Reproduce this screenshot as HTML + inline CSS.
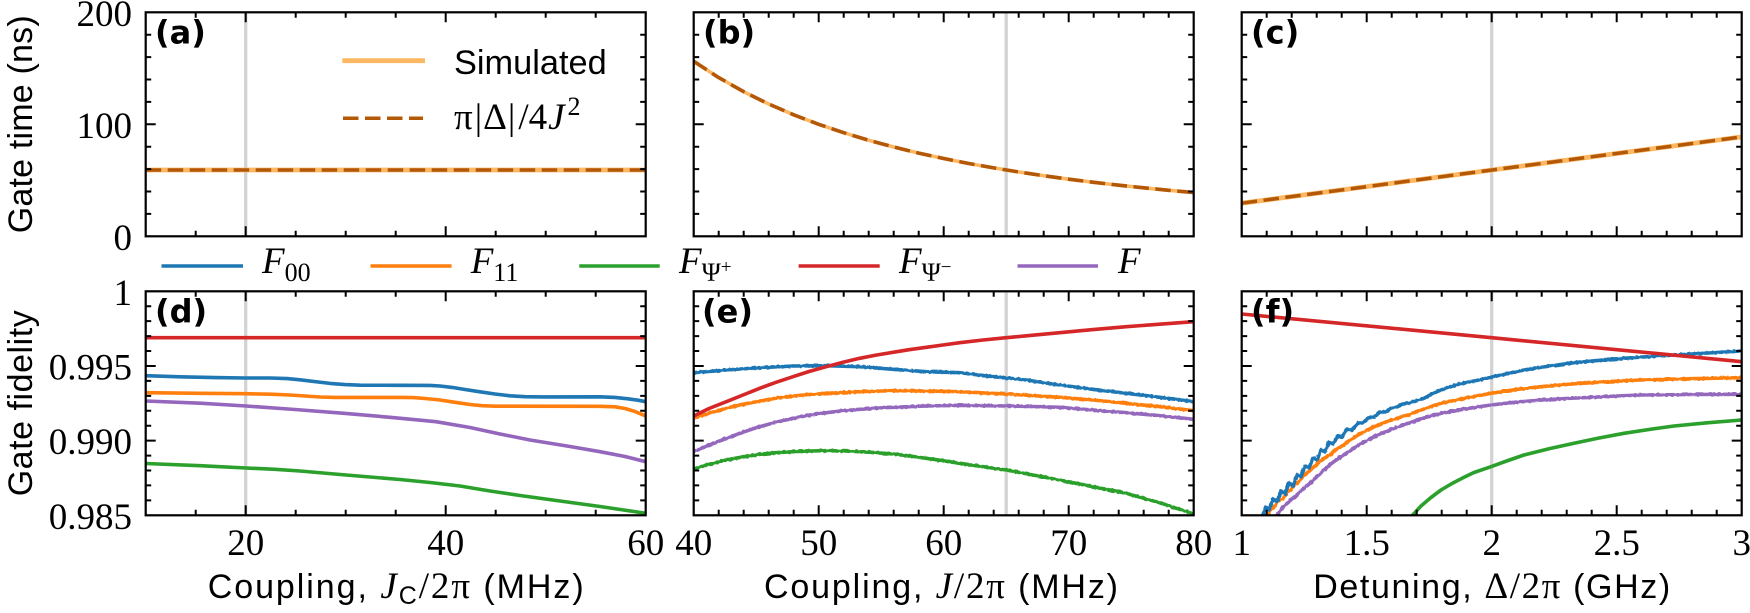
<!DOCTYPE html>
<html><head><meta charset="utf-8"><style>
html,body{margin:0;padding:0;background:#fff;}
svg{display:block}
.t{font-family:"Liberation Serif",serif;font-size:37px;fill:#000}
.s{font-family:"Liberation Sans",sans-serif;font-size:34px;fill:#000}
.b{font-family:"DejaVu Sans","Liberation Sans",sans-serif;font-weight:bold;font-size:32px;fill:#000}
.tk{stroke:#000;stroke-width:2;fill:none}
.sp{stroke:#000;stroke-width:2.2;fill:none}
.ln{fill:none;stroke-width:3.6;stroke-linejoin:round;stroke-linecap:butt}
</style></head><body>
<svg width="1750" height="613" viewBox="0 0 1750 613" xmlns="http://www.w3.org/2000/svg">
<defs>
<clipPath id="c1"><rect x="145.7" y="12.3" width="500" height="224"/></clipPath>
<clipPath id="c2"><rect x="693.7" y="12.3" width="500" height="224"/></clipPath>
<clipPath id="c3"><rect x="1241.7" y="12.3" width="500" height="224"/></clipPath>
<clipPath id="c4"><rect x="145.7" y="291.3" width="500" height="224"/></clipPath>
<clipPath id="c5"><rect x="693.7" y="291.3" width="500" height="224"/></clipPath>
<clipPath id="c6"><rect x="1241.7" y="291.3" width="500" height="224"/></clipPath>
<filter id="jit" filterUnits="userSpaceOnUse" x="0" y="0" width="1750" height="613">
<feTurbulence type="fractalNoise" baseFrequency="0.35" numOctaves="1" seed="3" result="n"/>
<feDisplacementMap in="SourceGraphic" in2="n" scale="2.5" xChannelSelector="R" yChannelSelector="G"/>
</filter>
<path id="xt1" d="M195.7 0v-5.5M245.7 0v-10M295.7 0v-5.5M345.7 0v-5.5M395.7 0v-5.5M445.7 0v-10M495.7 0v-5.5M545.7 0v-5.5M595.7 0v-5.5"/>
<path id="xt2" d="M718.7 0v-5.5M743.7 0v-5.5M768.7 0v-5.5M793.7 0v-5.5M818.7 0v-10M843.7 0v-5.5M868.7 0v-5.5M893.7 0v-5.5M918.7 0v-5.5M943.7 0v-10M968.7 0v-5.5M993.7 0v-5.5M1018.7 0v-5.5M1043.7 0v-5.5M1068.7 0v-10M1093.7 0v-5.5M1118.7 0v-5.5M1143.7 0v-5.5M1168.7 0v-5.5"/>
<path id="xt3" d="M1266.7 0v-5.5M1291.7 0v-5.5M1316.7 0v-5.5M1341.7 0v-5.5M1366.7 0v-10M1391.7 0v-5.5M1416.7 0v-5.5M1441.7 0v-5.5M1466.7 0v-5.5M1491.7 0v-10M1516.7 0v-5.5M1541.7 0v-5.5M1566.7 0v-5.5M1591.7 0v-5.5M1616.7 0v-10M1641.7 0v-5.5M1666.7 0v-5.5M1691.7 0v-5.5M1716.7 0v-5.5"/>
<path id="ytt" d="M0 213.9h5.5M0 191.5h5.5M0 169.1h5.5M0 146.7h5.5M0 124.3h10M0 101.9h5.5M0 79.5h5.5M0 57.1h5.5M0 34.7h5.5"/>
<path id="ytb" d="M0 500.37h5.5M0 485.43h5.5M0 470.5h5.5M0 455.57h5.5M0 440.63h10M0 425.7h5.5M0 410.77h5.5M0 395.83h5.5M0 380.9h5.5M0 365.97h10M0 351.03h5.5M0 336.1h5.5M0 321.17h5.5M0 306.23h5.5"/>
</defs>

<g stroke="#d3d3d3" stroke-width="3.3">
<line x1="245.7" y1="12.3" x2="245.7" y2="236.3"/>
<line x1="1006.2" y1="12.3" x2="1006.2" y2="236.3"/>
<line x1="1491.7" y1="12.3" x2="1491.7" y2="236.3"/>
<line x1="245.7" y1="291.3" x2="245.7" y2="515.3"/>
<line x1="1006.2" y1="291.3" x2="1006.2" y2="515.3"/>
<line x1="1491.7" y1="291.3" x2="1491.7" y2="515.3"/>
</g>

<g clip-path="url(#c1)">
<line x1="145.7" y1="170" x2="645.7" y2="170" stroke="#fdb863" stroke-width="4.8"/>
<line x1="145.7" y1="170" x2="645.7" y2="170" stroke="#b35806" stroke-width="3.5" stroke-dasharray="15.5 6.5"/>
</g>
<g clip-path="url(#c2)">
<polyline class="ln" stroke="#fdb863" stroke-width="4.8" points="693.7,61.3 718.7,77.6 743.7,91.7 768.7,104 793.7,114.8 818.7,124.3 843.7,132.7 868.7,140.3 893.7,147 918.7,153.1 943.7,158.5 968.7,163.5 993.7,167.9 1018.7,172 1043.7,175.7 1068.7,179.2 1093.7,182.3 1118.7,185.2 1143.7,187.8 1168.7,190.3 1193.7,192.5"/>
<polyline class="ln" stroke="#b35806" stroke-width="3.5" stroke-dasharray="15.5 6.5" points="693.7,61.3 718.7,77.6 743.7,91.7 768.7,104 793.7,114.8 818.7,124.3 843.7,132.7 868.7,140.3 893.7,147 918.7,153.1 943.7,158.5 968.7,163.5 993.7,167.9 1018.7,172 1043.7,175.7 1068.7,179.2 1093.7,182.3 1118.7,185.2 1143.7,187.8 1168.7,190.3 1193.7,192.5"/>
</g>
<g clip-path="url(#c3)">
<line x1="1241.7" y1="203.2" x2="1741.7" y2="136.9" stroke="#fdb863" stroke-width="4.8"/>
<line x1="1241.7" y1="203.2" x2="1741.7" y2="136.9" stroke="#b35806" stroke-width="3.5" stroke-dasharray="15.5 6.5"/>
</g>

<g clip-path="url(#c4)">
<line class="ln" x1="145.7" y1="337.7" x2="645.7" y2="337.7" stroke="#d62728"/>
<polyline class="ln" stroke="#1f77b4" points="145.7,375.7 180,376.8 215,377.6 245,378 270,378 287,378.6 300,379.8 315,381.6 330,383.4 345,384.6 360,385.2 400,385.3 430,385.4 440,386 452,387.4 465,389.5 480,391.8 495,394 510,395.8 525,396.7 543,396.9 600,396.8 615,397.4 628,398.8 638,400.2 645.7,401.7"/>
<polyline class="ln" stroke="#ff7f0e" points="145.7,392.7 200,393.3 245,393.7 270,394.2 290,395 305,396 320,397 335,397.4 400,397.4 413,397.6 425,398.5 440,400 455,402.3 470,404.5 482,405.7 495,406.2 600,406.3 615,406.8 625,408.5 635,411.5 645.7,416"/>
<polyline class="ln" stroke="#9467bd" points="145.7,401 200,403.2 246,406 295,409.5 344,413.3 390,417.3 436,421.7 470,427.5 500,434 530,440 570,446.5 600,451.7 625,456.5 645.7,461.7"/>
<polyline class="ln" stroke="#2ca02c" points="145.7,463.5 200,465.7 246,468 275,469.3 300,471 346,475 400,479.5 430,482.5 460,486 490,491 520,495.5 560,501 600,506.5 645.7,513.3"/>
</g>

<g clip-path="url(#c5)">
<polyline class="ln" stroke="#2ca02c" filter="url(#jit)" points="693.7,469 710,464 726.3,460 743,456.8 759.7,454.3 776,452.7 793,451.7 809,451 826.3,450.7 843,451 859.7,451.7 876,452.7 893,454 910,456 926.3,458.3 943,460.7 959.7,463.3 983,466.7 1006.3,470 1033,475 1059.7,480 1093,486.7 1126.3,493.3 1159.7,502.7 1193.7,514"/>
<polyline class="ln" stroke="#9467bd" filter="url(#jit)" points="693.7,451.7 710,444.7 726.3,438.3 743,432.2 759.7,426.7 776,422.2 793,418.3 809,415.2 826.3,412.7 843,410.8 859.7,409.3 876,408.2 893,407.3 926.3,406 959.7,405.3 1006.3,406 1033,406.5 1059.7,407.3 1093,410 1126.3,412.7 1159.7,415.7 1193.7,419.3"/>
<polyline class="ln" stroke="#ff7f0e" filter="url(#jit)" points="693.7,418.3 710,412.8 726.3,408.3 743,404.3 759.7,401 776,398.2 793,396 809,394.5 826.3,393.3 859.7,391.7 893,390.7 926.3,391 959.7,391.7 1006.3,394 1059.7,397.3 1093,400 1126.3,403.3 1159.7,406.7 1193.7,410.7"/>
<polyline class="ln" stroke="#1f77b4" filter="url(#jit)" points="693.7,372.7 726.3,370 759.7,367.7 793,366 826.3,365.7 859.7,366.7 893,369.3 926.3,371.7 959.7,372.7 993,376.7 1026.3,380 1059.7,385 1093,389.3 1126.3,393.3 1159.7,397.3 1193.7,401.7"/>
<polyline class="ln" stroke="#d62728" points="693.7,416 709,408.5 726.3,401.7 743,395 759.7,388.3 776,382.3 793,376.7 809,371.5 826.3,366.7 843,362.3 859.7,358.3 876,355.1 893,352.3 909,349.7 926.3,347.3 943,345 959.7,342.7 983,340 1006.3,337.7 1033,335.2 1059.7,332.7 1093,329.6 1126.3,326.7 1159.7,324.2 1193.7,321.7"/>
</g>

<g clip-path="url(#c6)">
<polyline class="ln" stroke="#2ca02c" points="1410,518 1421,506 1431,497.5 1441,490 1452,483.5 1463,477.8 1474,472.5 1491,466.7 1508,460.5 1524,455 1549,448.8 1574,443.3 1599,438 1624,433.3 1649,429.5 1674,426 1707,422.8 1741.7,420"/>
<polyline class="ln" stroke="#9467bd" filter="url(#jit)" points="1275,518 1283,507 1291,500 1299,492.5 1308,485 1316,477.5 1324,470 1332,463 1341,456.7 1357,446 1374,436.7 1391,429.5 1408,423.3 1424,418 1441,413.3 1466,408.7 1491,405 1516,402.2 1541,400 1566,398.5 1591,397.3 1616,396 1641,395 1691,394.5 1741.7,394.3"/>
<polyline class="ln" stroke="#ff7f0e" filter="url(#jit)" points="1267,518 1271,509 1275,506 1279,500 1283,499 1287,492 1291,490 1295,484 1299,482 1303,476 1307,473 1311,469 1315,466 1319,462 1324,458.3 1330,455 1335,450 1341,446.7 1347,442 1352,439 1358,435 1366,431 1374,426.7 1390,420.5 1408,415 1424,409 1441,403.3 1466,398 1491,393.3 1516,389.5 1541,386.7 1566,384.5 1591,382.7 1616,381.2 1641,380 1691,378.7 1741.7,377.7"/>
<polyline class="ln" stroke="#1f77b4" filter="url(#jit)" points="1262,518 1266,507 1269,510 1273,499 1277,502 1281,491 1285,494 1289,483 1293,486 1297,475 1301,477 1305,466 1309,468 1313,458 1317,460 1321,450 1325,452 1329,442 1333,444 1338,436 1342,437 1347,429 1352,430 1358,423 1363,423 1368,418 1374,417 1380,412 1386,412 1391,408 1397,407 1403,404 1408,403.3 1416,401 1424,398.3 1432,394 1441,390 1450,387 1458,384.3 1474,381 1491,377.3 1508,373.5 1524,370 1550,366 1574,362.7 1600,360.3 1624,358.3 1650,356.5 1674,355 1700,353.5 1741.7,351"/>
<polyline class="ln" stroke="#d62728" points="1241.7,314 1491.7,337.7 1741.7,361.7"/>
</g>

<rect class="sp" x="145.7" y="12.3" width="500" height="224"/>
<rect class="sp" x="693.7" y="12.3" width="500" height="224"/>
<rect class="sp" x="1241.7" y="12.3" width="500" height="224"/>
<rect class="sp" x="145.7" y="291.3" width="500" height="224"/>
<rect class="sp" x="693.7" y="291.3" width="500" height="224"/>
<rect class="sp" x="1241.7" y="291.3" width="500" height="224"/>

<g class="tk">
<use href="#xt1" transform="translate(0,236.3)"/>
<use href="#xt1" transform="translate(0,12.3) scale(1,-1)"/>
<use href="#xt1" transform="translate(0,515.3)"/>
<use href="#xt1" transform="translate(0,291.3) scale(1,-1)"/>
<use href="#xt2" transform="translate(0,236.3)"/>
<use href="#xt2" transform="translate(0,12.3) scale(1,-1)"/>
<use href="#xt2" transform="translate(0,515.3)"/>
<use href="#xt2" transform="translate(0,291.3) scale(1,-1)"/>
<use href="#xt3" transform="translate(0,236.3)"/>
<use href="#xt3" transform="translate(0,12.3) scale(1,-1)"/>
<use href="#xt3" transform="translate(0,515.3)"/>
<use href="#xt3" transform="translate(0,291.3) scale(1,-1)"/>
<use href="#ytt" transform="translate(145.7,0)"/>
<use href="#ytt" transform="translate(645.7,0) scale(-1,1)"/>
<use href="#ytt" transform="translate(693.7,0)"/>
<use href="#ytt" transform="translate(1193.7,0) scale(-1,1)"/>
<use href="#ytt" transform="translate(1241.7,0)"/>
<use href="#ytt" transform="translate(1741.7,0) scale(-1,1)"/>
<use href="#ytb" transform="translate(145.7,0)"/>
<use href="#ytb" transform="translate(645.7,0) scale(-1,1)"/>
<use href="#ytb" transform="translate(693.7,0)"/>
<use href="#ytb" transform="translate(1193.7,0) scale(-1,1)"/>
<use href="#ytb" transform="translate(1241.7,0)"/>
<use href="#ytb" transform="translate(1741.7,0) scale(-1,1)"/>
</g>

<text class="b" x="155" y="43.5">(a)</text>
<text class="b" x="703" y="43.5">(b)</text>
<text class="b" x="1251" y="43.5">(c)</text>
<text class="b" x="155" y="322.5">(d)</text>
<text class="b" x="702" y="322.5">(e)</text>
<text class="b" x="1251" y="322.5">(f)</text>

<line x1="342.3" y1="60.7" x2="425" y2="60.7" stroke="#fdb863" stroke-width="4.8"/>
<text class="s" x="454" y="74" textLength="152.7" lengthAdjust="spacingAndGlyphs">Simulated</text>
<line x1="343" y1="118.3" x2="423" y2="118.3" stroke="#b35806" stroke-width="3.5" stroke-dasharray="15.5 6.5"/>
<text class="t" x="454" y="129" font-size="38">π<tspan dx="2">|</tspan><tspan dx="1">Δ</tspan><tspan dx="1">|</tspan><tspan dx="3">/</tspan>4<tspan font-style="italic" dx="1">J</tspan><tspan font-size="26" dy="-14" dx="3">2</tspan></text>

<g stroke-width="3.5">
<line x1="161.5" y1="266" x2="243" y2="266" stroke="#1f77b4"/>
<line x1="370.5" y1="266" x2="451.6" y2="266" stroke="#ff7f0e"/>
<line x1="579.3" y1="266" x2="659.7" y2="266" stroke="#2ca02c"/>
<line x1="798.6" y1="266" x2="879.7" y2="266" stroke="#d62728"/>
<line x1="1017.5" y1="266" x2="1098" y2="266" stroke="#9467bd"/>
</g>
<text class="t" x="262" y="273"><tspan font-style="italic">F</tspan><tspan font-size="26" dy="8">00</tspan></text>
<text class="t" x="470.7" y="273"><tspan font-style="italic">F</tspan><tspan font-size="26" dy="8">11</tspan></text>
<text class="t" x="679" y="273"><tspan font-style="italic">F</tspan><tspan font-size="26" dy="8">Ψ</tspan><tspan font-size="19" dy="-8">+</tspan></text>
<text class="t" x="899" y="273"><tspan font-style="italic">F</tspan><tspan font-size="26" dy="8">Ψ</tspan><tspan font-size="19" dy="-8">−</tspan></text>
<text class="t" x="1118" y="273" font-style="italic">F</text>

<g class="t" text-anchor="end">
<text x="132" y="25.8">200</text>
<text x="132" y="137.8">100</text>
<text x="132" y="249.8">0</text>
<text x="132" y="304.8">1</text>
<text x="132" y="379.5">0.995</text>
<text x="132" y="454.1">0.990</text>
<text x="132" y="528.8">0.985</text>
</g>
<g class="t" text-anchor="middle">
<text x="245.7" y="555">20</text>
<text x="445.7" y="555">40</text>
<text x="645.7" y="555">60</text>
<text x="693.7" y="555">40</text>
<text x="818.7" y="555">50</text>
<text x="943.7" y="555">60</text>
<text x="1068.7" y="555">70</text>
<text x="1193.7" y="555">80</text>
<text x="1241.7" y="555">1</text>
<text x="1366.7" y="555">1.5</text>
<text x="1491.7" y="555">2</text>
<text x="1616.7" y="555">2.5</text>
<text x="1741.7" y="555">3</text>
</g>

<text class="s" x="395.7" y="598" text-anchor="middle" textLength="376">Coupling, <tspan class="t" font-style="italic">J</tspan><tspan font-size="25" dy="6">C</tspan><tspan class="t" dy="-6">/2π</tspan> (MHz)</text>
<text class="s" x="941" y="598" text-anchor="middle" textLength="354">Coupling, <tspan class="t" font-style="italic">J</tspan><tspan class="t">/2π</tspan> (MHz)</text>
<text class="s" x="1491.7" y="598" text-anchor="middle" textLength="357">Detuning, <tspan class="t">Δ/2π</tspan> (GHz)</text>
<text class="s" transform="translate(32,124.3) rotate(-90)" text-anchor="middle" textLength="218">Gate time (ns)</text>
<text class="s" transform="translate(32,403.3) rotate(-90)" text-anchor="middle" textLength="186">Gate fidelity</text>
</svg>
</body></html>
